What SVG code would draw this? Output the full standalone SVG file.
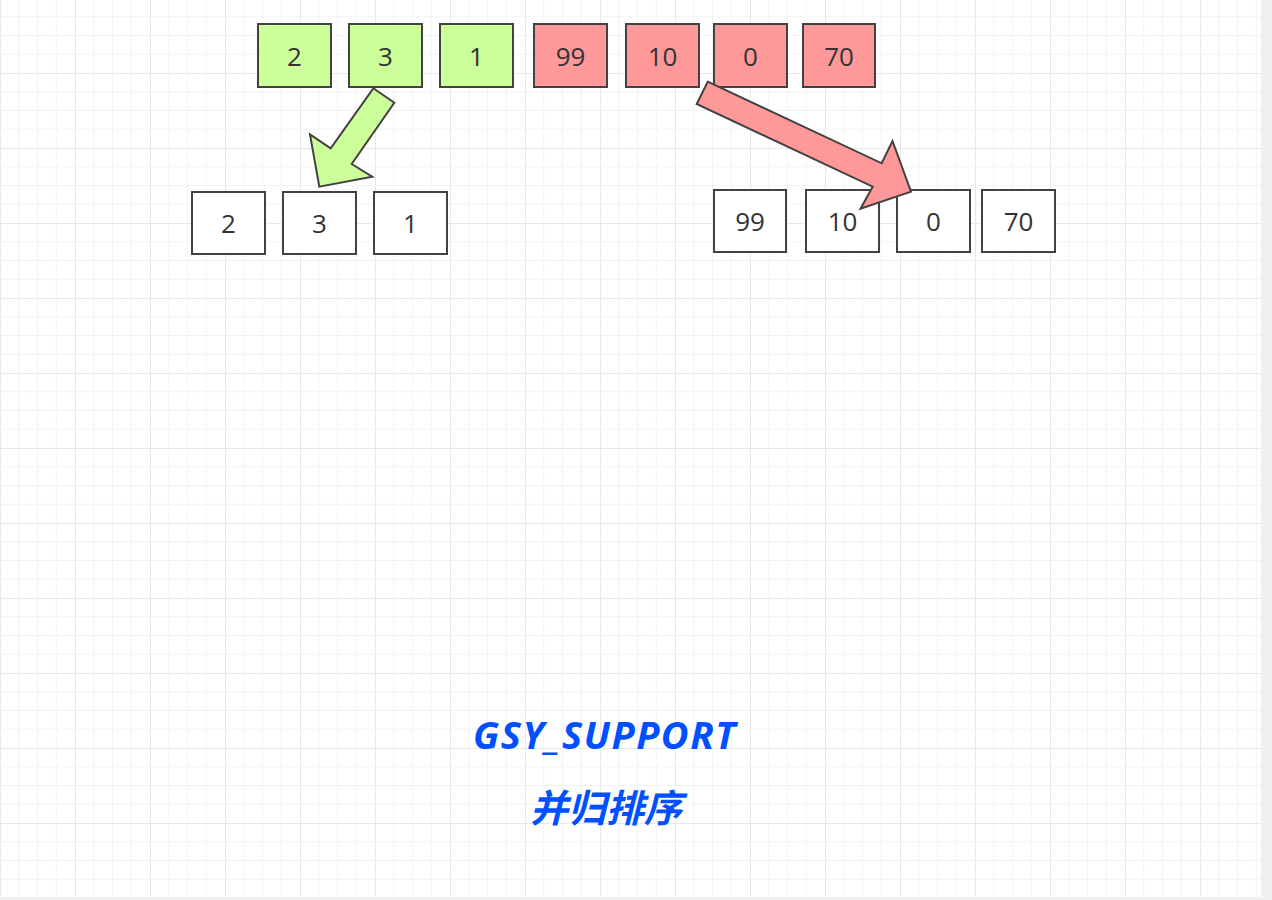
<svg xmlns="http://www.w3.org/2000/svg" width="1272" height="900" viewBox="0 0 1272 900">
  <defs>
    <pattern id="grid" x="0" y="-2" width="75" height="75" patternUnits="userSpaceOnUse">
      <path d="M18.75 0V75M37.5 0V75M56.25 0V75M0 18.75H75M0 37.5H75M0 56.25H75" stroke="#f3f3f3" stroke-width="1" fill="none"/>
      <path d="M0.5 0V75M0 0.5H75" stroke="#e8e8e8" stroke-width="1" fill="none"/>
    </pattern>
    <style>
      .box { stroke: #424242; stroke-width: 2; }
      .g { fill: #ccff99; }
      .r { fill: #ff9999; }
      .w { fill: #ffffff; }
      .num { font-family: "Open Sans", "Noto Sans", sans-serif; font-size: 26px; fill: #333333; text-anchor: middle; dominant-baseline: central; }
      .arrow { stroke: #424242; stroke-width: 2; stroke-linejoin: miter; }
      .title { font-family: "Noto Sans", "Noto Sans CJK SC", sans-serif; font-weight: bold; font-style: italic; fill: #0050ff; text-anchor: middle; }
    </style>
  </defs>
  <rect width="1272" height="900" fill="#ffffff"/>
  <rect width="1272" height="900" fill="url(#grid)"/>
  <rect x="1261" y="0" width="11" height="900" fill="#f0f0f0"/>
  <rect x="0" y="897" width="1272" height="3" fill="#f0f0f0"/>

  <g id="top-2"><rect class="box g" x="258" y="24" width="73" height="63"/><text class="num" x="294.5" y="55.5">2</text></g>
  <g id="top-3"><rect class="box g" x="349" y="24" width="73" height="63"/><text class="num" x="385.5" y="55.5">3</text></g>
  <g id="top-1"><rect class="box g" x="440" y="24" width="73" height="63"/><text class="num" x="476.5" y="55.5">1</text></g>
  <g id="top-99"><rect class="box r" x="534" y="24" width="73" height="63"/><text class="num" x="570.5" y="55.5">99</text></g>
  <g id="top-10"><rect class="box r" x="626" y="24" width="73" height="63"/><text class="num" x="662.5" y="55.5">10</text></g>
  <g id="top-0"><rect class="box r" x="714" y="24" width="73" height="63"/><text class="num" x="750.5" y="55.5">0</text></g>
  <g id="top-70"><rect class="box r" x="803" y="24" width="72" height="63"/><text class="num" x="839" y="55.5">70</text></g>

  <g id="left-2"><rect class="box w" x="192" y="192" width="73" height="62"/><text class="num" x="228.5" y="223">2</text></g>
  <g id="left-3"><rect class="box w" x="283" y="192" width="73" height="62"/><text class="num" x="319.5" y="223">3</text></g>
  <g id="left-1"><rect class="box w" x="374" y="192" width="73" height="62"/><text class="num" x="410.5" y="223">1</text></g>

  <g id="right-99"><rect class="box w" x="714" y="190" width="72" height="62"/><text class="num" x="750" y="221">99</text></g>
  <g id="right-10"><rect class="box w" x="806" y="190" width="73" height="62"/><text class="num" x="842.5" y="221">10</text></g>
  <g id="right-0"><rect class="box w" x="897" y="190" width="73" height="62"/><text class="num" x="933.5" y="221">0</text></g>
  <g id="right-70"><rect class="box w" x="982" y="190" width="73" height="62"/><text class="num" x="1018.5" y="221">70</text></g>

  <g id="connectors">
    <polygon class="arrow g" points="373.3,88.3 394.3,102.7 351.7,164 372.3,176.7 319.3,186.7 310,134.3 330.7,148.3"/>
    <polygon class="arrow r" points="707.7,81.7 881.7,163.3 892.5,141 911,191.7 860.5,208.7 872.7,186.7 696.7,104"/>
  </g>

  <g id="caption">
    <text class="title" x="605" y="749" font-size="38" letter-spacing="1.5">GSY_SUPPORT</text>
    <text class="title" x="606" y="822" font-size="38">并归排序</text>
  </g>
</svg>
